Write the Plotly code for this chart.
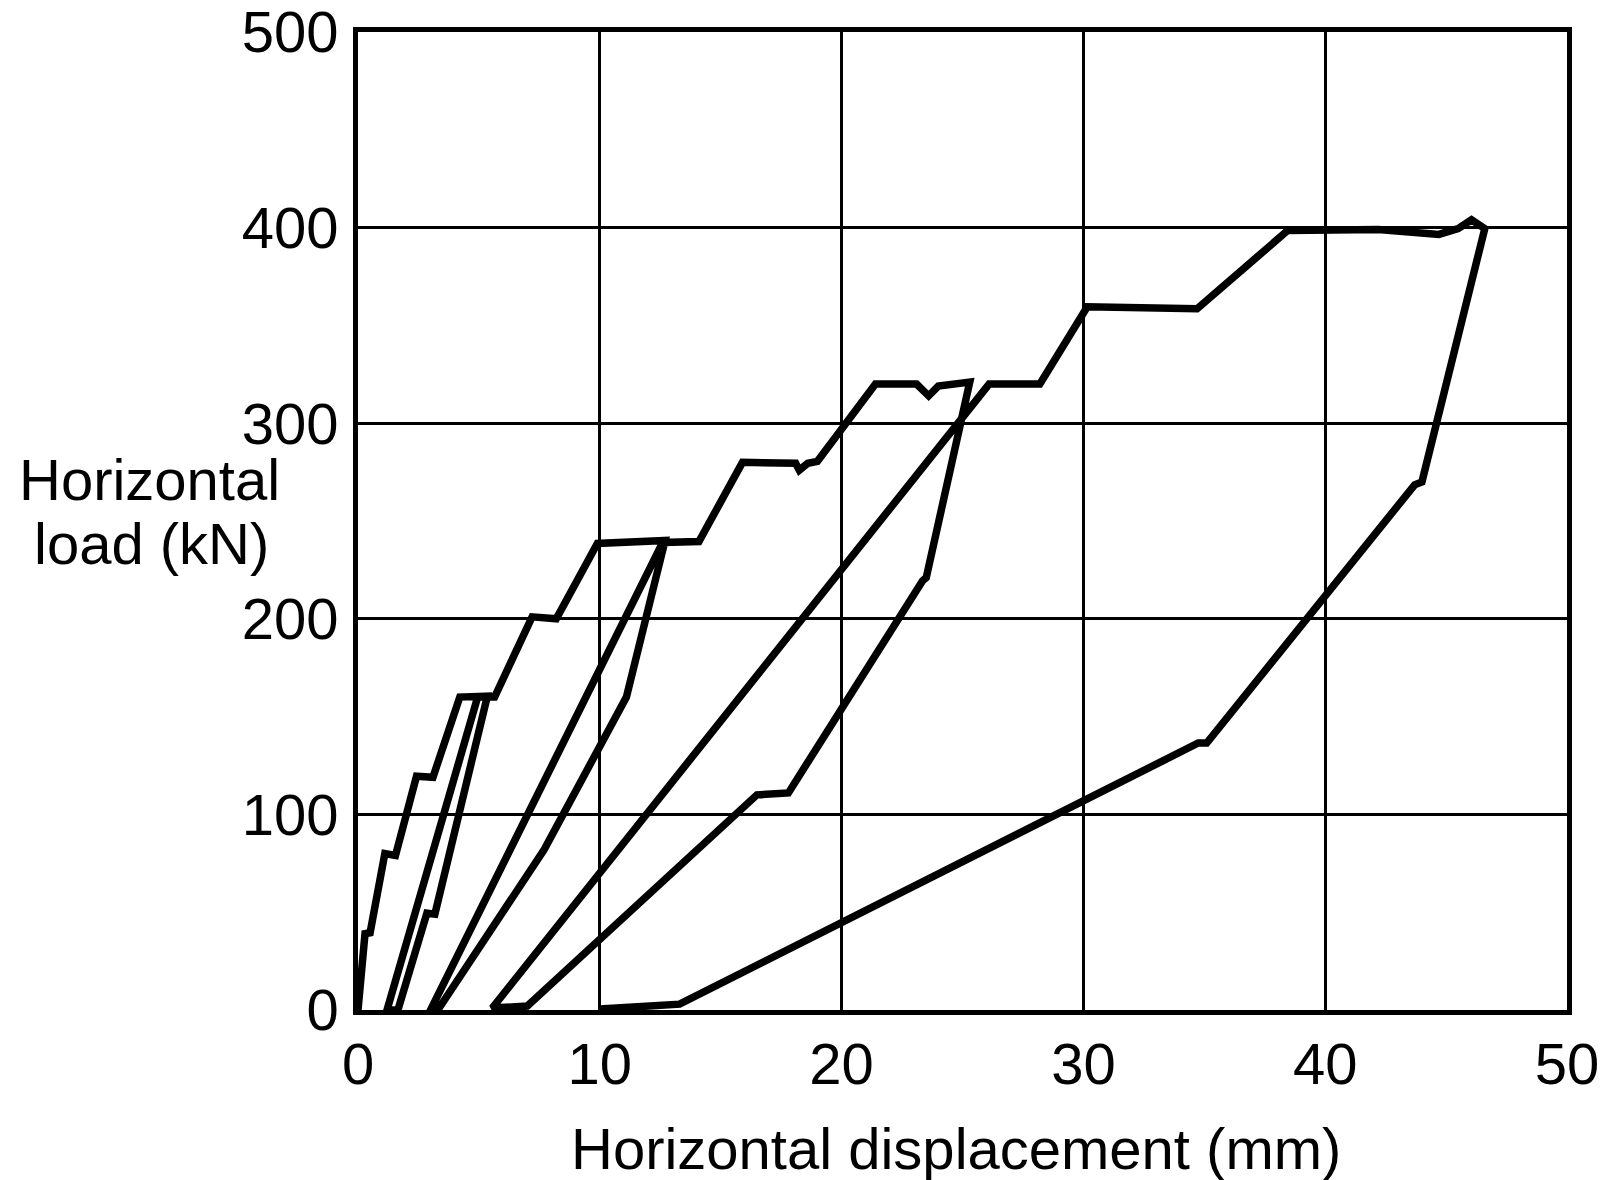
import plotly.graph_objects as go

# Horizontal displacement (mm) and horizontal load (kN), read along the single loading path
disp = [0, 0.29, 0.5, 1.11, 1.55, 2.42, 3.1, 4.21, 5.35,
        3.18, 2.85, 1.65, 1.2,
        4.95, 5.65, 7.2, 8.2, 9.9, 12.7,
        11.1, 7.7, 3.3, 3.0,
        12.6, 14.1, 15.9, 18.1, 18.25, 18.6, 19.0, 21.4, 23.1, 23.6, 24.0, 25.3,
        23.5, 23.35, 17.8, 16.5, 7.0, 5.55,
        26.1, 28.2, 30.16, 34.7, 38.45, 42.2, 44.7, 45.5, 46.05, 46.6,
        44.6, 44.0, 43.7, 35.1, 34.75, 13.3, 10.0]
load = [0, 39, 39.5, 80, 79, 119.5, 119, 160, 160.5,
        49, 49.5, 0, 0,
        160, 160, 201, 200, 238.5, 240,
        160, 82, 0, 0,
        239, 239.5, 280, 279.5, 276, 279.5, 280.5, 320, 320, 314, 319, 321,
        221, 219.5, 111, 110, 2, 1,
        320, 320, 359.5, 358.5, 398.5, 399, 396.5, 399.5, 404, 399.5,
        301, 270, 268.5, 136.5, 136.5, 3, 0.5]

x_ticks = [0, 10, 20, 30, 40, 50]
y_ticks = [0, 100, 200, 300, 400, 500]
x_title = "Horizontal displacement (mm)"
y_title_lines = ["Horizontal", "load (kN)"]

FONT = "Liberation Sans, Arial, sans-serif"

fig = go.Figure()
fig.add_trace(go.Scatter(
    x=disp, y=load, mode="lines",
    line=dict(color="black", width=7.5),
    cliponaxis=False, showlegend=False, hoverinfo="skip",
))

W, H = 1607, 1180
L, R, T, B = 358, 40, 32, 170

fig.update_layout(
    width=W, height=H,
    margin=dict(l=L, r=R, t=T, b=B, autoexpand=False),
    paper_bgcolor="white", plot_bgcolor="white",
    font=dict(family=FONT, color="black"),
    showlegend=False,
)
fig.update_xaxes(
    range=[0, 50], tickvals=x_ticks, ticktext=[str(v) for v in x_ticks],
    showgrid=True, gridcolor="black", gridwidth=3.2,
    showline=True, linecolor="black", linewidth=4.5, mirror=True,
    zeroline=False, ticks="", ticklabelstandoff=0, automargin=False,
    ticklabeloverflow="allow",
    tickfont=dict(size=58, family=FONT, color="black"),
)
fig.update_yaxes(
    range=[0, 500], tickvals=y_ticks, ticktext=[str(v) for v in y_ticks],
    showgrid=True, gridcolor="black", gridwidth=3.2,
    showline=True, linecolor="black", linewidth=4.5, mirror=True,
    zeroline=False, ticks="", ticklabelstandoff=3, automargin=False,
    ticklabeloverflow="allow",
    tickfont=dict(size=58, family=FONT, color="black"),
)

pw, ph = W - L - R, H - T - B
def px(xp):
    return (xp - L) / pw
def py(yp):
    return (H - B - yp) / ph

fig.add_annotation(text=x_title, xref="paper", yref="paper",
                   x=px(956), y=py(1148), xanchor="center", yanchor="middle",
                   showarrow=False, font=dict(size=58, family=FONT, color="black"))
fig.add_annotation(text=y_title_lines[0], xref="paper", yref="paper",
                   x=px(149), y=py(480), xanchor="center", yanchor="middle",
                   showarrow=False, font=dict(size=58, family=FONT, color="black"))
fig.add_annotation(text=y_title_lines[1], xref="paper", yref="paper",
                   x=px(151), y=py(543), xanchor="center", yanchor="middle",
                   showarrow=False, font=dict(size=58, family=FONT, color="black"))

fig.write_html("out.html")
